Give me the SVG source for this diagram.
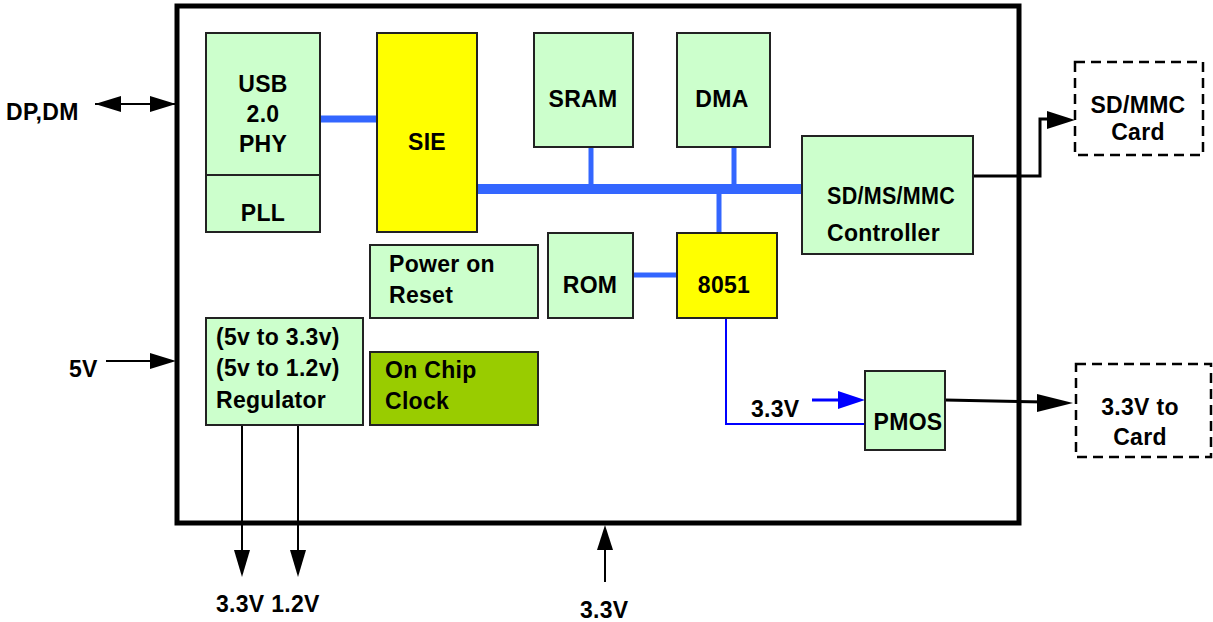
<svg xmlns="http://www.w3.org/2000/svg" width="1213" height="622" viewBox="0 0 1213 622">
<defs>
<style>
.box{fill:#CCFFCC;stroke:#222;stroke-width:2}
.yel{fill:#FFFF00;stroke:#222;stroke-width:2}
.clk{fill:#99CC00;stroke:#222;stroke-width:2}
.dash{fill:#fff;stroke:#000;stroke-width:2.5;stroke-dasharray:10 6}
text{font-family:"Liberation Sans",Arial,sans-serif;font-weight:bold;font-size:23px;letter-spacing:0.3px;fill:#000}
.c{text-anchor:middle}
.bus{stroke:#3366FF;fill:none}
</style>
</defs>
<rect width="1213" height="622" fill="#fff"/>
<g id="chip">
<rect x="177" y="6" width="842" height="517" fill="none" stroke="#000" stroke-width="5"/>
</g>
<g id="connectors">
<line class="bus" x1="320" y1="119" x2="377" y2="119" stroke-width="7"/>
<line class="bus" x1="477" y1="189" x2="805" y2="189" stroke-width="10"/>
<line class="bus" x1="591" y1="147" x2="591" y2="189" stroke-width="5"/>
<line class="bus" x1="734" y1="147" x2="734" y2="189" stroke-width="5"/>
<line class="bus" x1="719" y1="189" x2="719" y2="233" stroke-width="5"/>
<line class="bus" x1="633" y1="275" x2="677" y2="275" stroke-width="5"/>
<polyline points="726,318 726,424 865,424" fill="none" stroke="#0000FF" stroke-width="2"/>
<line x1="812" y1="400" x2="840" y2="400" stroke="#0000FF" stroke-width="3"/>
<path d="M838,391 L865,400 L838,409 z" fill="#0000FF"/>
<line x1="95" y1="104" x2="176" y2="104" stroke="#000" stroke-width="2"/>
<path d="M95,104 L121,96 L121,112 z"/>
<path d="M176,104 L150,96 L150,112 z"/>
<line x1="106" y1="361" x2="155" y2="361" stroke="#000" stroke-width="2"/>
<path d="M176,361 L150,353 L150,369 z"/>
<line x1="242" y1="425" x2="242" y2="555" stroke="#000" stroke-width="2"/>
<path d="M242,577 L234,550 L250,550 z"/>
<line x1="298" y1="425" x2="298" y2="555" stroke="#000" stroke-width="2"/>
<path d="M298,577 L290,550 L306,550 z"/>
<line x1="605" y1="582" x2="605" y2="545" stroke="#000" stroke-width="2"/>
<path d="M605,525 L597,550 L613,550 z"/>
<line x1="945" y1="400" x2="1045" y2="402" stroke="#000" stroke-width="3"/>
<path d="M1073,403 L1037,394 L1037,412 z"/>
<polyline points="973,176 1040,176 1040,119 1050,119" fill="none" stroke="#000" stroke-width="3"/>
<path d="M1075,120 L1047,111 L1047,129 z"/>
</g>
<g id="usb">
<rect class="box" x="206" y="33" width="114" height="142"/>
<text class="c" x="263" y="92">USB</text>
<text class="c" x="263" y="122">2.0</text>
<text class="c" x="263" y="152">PHY</text>
</g>
<g id="pll">
<rect class="box" x="206" y="175" width="114" height="57"/>
<text class="c" x="263" y="221">PLL</text>
</g>
<g id="sie">
<rect class="yel" x="377" y="33" width="100" height="199"/>
<text class="c" x="427" y="150">SIE</text>
</g>
<g id="sram">
<rect class="box" x="534" y="33" width="99" height="114"/>
<text class="c" x="583" y="107">SRAM</text>
</g>
<g id="dma">
<rect class="box" x="677" y="33" width="93" height="114"/>
<text class="c" x="722" y="107">DMA</text>
</g>
<g id="controller">
<rect class="box" x="802" y="136" width="171" height="118"/>
<text x="827" y="204" textLength="128" lengthAdjust="spacingAndGlyphs">SD/MS/MMC</text>
<text x="827" y="241">Controller</text>
</g>
<g id="por">
<rect class="box" x="370" y="245" width="168" height="73"/>
<text x="389" y="272">Power on</text>
<text x="389" y="303">Reset</text>
</g>
<g id="rom">
<rect class="box" x="548" y="233" width="85" height="85"/>
<text class="c" x="590" y="293">ROM</text>
</g>
<g id="cpu8051">
<rect class="yel" x="677" y="233" width="100" height="85"/>
<text class="c" x="724" y="293">8051</text>
</g>
<g id="regulator">
<rect class="box" x="206" y="318" width="157" height="107"/>
<text x="216" y="345">(5v to 3.3v)</text>
<text x="216" y="376">(5v to 1.2v)</text>
<text x="216" y="408">Regulator</text>
</g>
<g id="clock">
<rect class="clk" x="370" y="352" width="168" height="73"/>
<text x="385" y="378">On Chip</text>
<text x="385" y="409">Clock</text>
</g>
<g id="pmos">
<rect class="box" x="865" y="371" width="80" height="79"/>
<text class="c" x="908" y="430">PMOS</text>
</g>
<g id="sdcard">
<rect class="dash" x="1075" y="62" width="128" height="93"/>
<text class="c" x="1138" y="113">SD/MMC</text>
<text class="c" x="1138" y="140">Card</text>
</g>
<g id="cardpower">
<rect class="dash" x="1076" y="364" width="135" height="93"/>
<text class="c" x="1140" y="415">3.3V to</text>
<text class="c" x="1140" y="445">Card</text>
</g>
<g id="labels">
<text x="6" y="120">DP,DM</text>
<text x="69" y="377">5V</text>
<text x="216" y="612">3.3V 1.2V</text>
<text x="580" y="618">3.3V</text>
<text x="751" y="417">3.3V</text>
</g>
</svg>
